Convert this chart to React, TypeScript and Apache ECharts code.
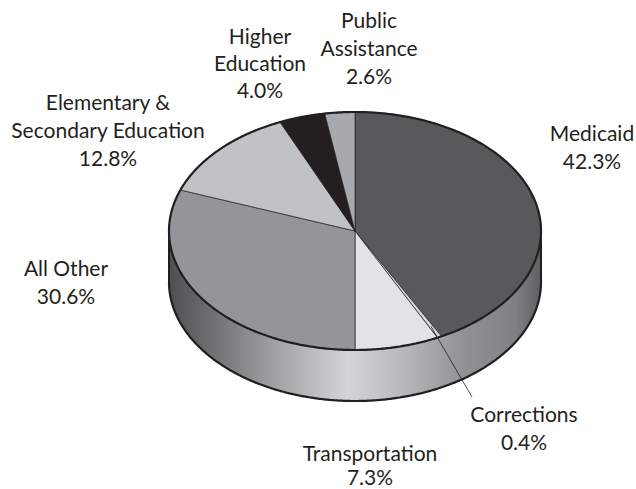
import React, { useEffect, useRef } from 'react';
import * as echarts from 'echarts';

const categories = [
  'Medicaid',
  'Corrections',
  'Transportation',
  'All Other',
  'Elementary &\nSecondary Education',
  'Higher\nEducation',
  'Public\nAssistance',
];
const shares = [42.3, 0.4, 7.3, 30.6, 12.8, 4.0, 2.6];
const sliceColors = ['#58595b', '#d1d3d4', '#e2e3e5', '#939598', '#c1c2c5', '#231f20', '#a7a9ac'];
// label layout: centre x, centre y of first line, line height
const labelAnchors = [
  [592, 132, 28],
  [524, 413, 28],
  [370, 452, 24.5],
  [66, 267, 28],
  [108, 101, 28],
  [260, 35, 27],
  [369, 19, 28],
];

const CX = 355;
const CY = 231;
const RX = 186;
const RY = 119;
const DEPTH = 51;
const FONT = 'Lato, "Open Sans", sans-serif';
const INK = '#231f20';

function pt(theta: number, dy = 0, f = 1): number[] {
  return [CX + f * RX * Math.sin(theta), CY - f * RY * Math.cos(theta) + dy];
}
function arc(a0: number, a1: number, dy = 0): number[][] {
  const n = Math.max(2, Math.ceil(Math.abs(a1 - a0) / (Math.PI / 360)));
  const out: number[][] = [];
  for (let k = 0; k <= n; k++) out.push(pt(a0 + ((a1 - a0) * k) / n, dy));
  return out;
}

export default function App() {
  const ref = useRef<HTMLDivElement>(null);
  useEffect(() => {
    if (!ref.current) return;
    const chart = echarts.init(ref.current, undefined, { renderer: 'svg' });
    const total = shares.reduce((a, b) => a + b, 0);

    const renderItem = (params: any, api: any) => {
      const i = params.dataIndex;
      const v = api.value(0);
      let before = 0;
      for (let j = 0; j < i; j++) before += shares[j];
      const a0 = (before / total) * Math.PI * 2;
      const a1 = ((before + v) / total) * Math.PI * 2;
      const children: any[] = [];

      if (i === 0) {
        const top = arc(Math.PI / 2, (Math.PI * 3) / 2, 0);
        const bottom = arc((Math.PI * 3) / 2, Math.PI / 2, DEPTH);
        children.push({
          type: 'polygon',
          z2: 0,
          shape: { points: top.concat(bottom) },
          style: {
            fill: new echarts.graphic.LinearGradient(0, 0, 1, 0, [
              { offset: 0, color: '#4e4f51' },
              { offset: 0.12, color: '#707173' },
              { offset: 0.3, color: '#a5a6a8' },
              { offset: 0.48, color: '#d3d4d6' },
              { offset: 0.62, color: '#b9babc' },
              { offset: 0.8, color: '#8f9093' },
              { offset: 0.93, color: '#808184' },
              { offset: 1, color: '#5e5f61' },
            ]),
            stroke: null,
          },
        });
        children.push({
          type: 'polyline',
          z2: 4,
          shape: { points: arc(Math.PI / 2, (Math.PI * 3) / 2, DEPTH) },
          style: { stroke: INK, lineWidth: 2.2, fill: null },
        });
        children.push({
          type: 'line',
          z2: 4,
          shape: { x1: CX - RX, y1: CY, x2: CX - RX, y2: CY + DEPTH },
          style: { stroke: INK, lineWidth: 2 },
        });
        children.push({
          type: 'line',
          z2: 4,
          shape: { x1: CX + RX, y1: CY, x2: CX + RX, y2: CY + DEPTH },
          style: { stroke: INK, lineWidth: 2 },
        });
      }

      children.push({
        type: 'polygon',
        z2: 2,
        shape: { points: [[CX, CY]].concat(arc(a0, a1, 0)) },
        style: { fill: sliceColors[i], stroke: INK, lineWidth: 0.7, lineJoin: 'round' },
      });

      if (i === shares.length - 1) {
        children.push({
          type: 'polygon',
          z2: 5,
          shape: { points: arc(0, Math.PI * 2, 0) },
          style: { fill: null, stroke: INK, lineWidth: 2.2 },
        });
      }

      if (i === 1) {
        const mid = (a0 + a1) / 2;
        const s = pt(mid, 0, 0.9);
        children.push({
          type: 'line',
          z2: 6,
          shape: { x1: s[0], y1: s[1], x2: 472, y2: 397 },
          style: { stroke: INK, lineWidth: 0.8 },
        });
      }

      const [lx, ly, lh] = labelAnchors[i];
      children.push({
        type: 'text',
        z2: 7,
        style: {
          text: categories[i] + '\n' + v.toFixed(1) + '%',
          x: lx,
          y: ly - lh / 2,
          align: 'center',
          verticalAlign: 'top',
          fontFamily: FONT,
          fontSize: 21,
          lineHeight: lh,
          fill: INK,
        },
      });

      return { type: 'group', children };
    };

    chart.setOption({
      animation: false,
      backgroundColor: '#ffffff',
      series: [
        {
          type: 'custom',
          coordinateSystem: 'none',
          silent: true,
          renderItem,
          data: shares.map((v, k) => ({ name: categories[k], value: [v] })),
        },
      ],
    });
    return () => chart.dispose();
  }, []);

  return (
    <div
      ref={ref}
      style={{ position: 'fixed', left: 0, top: 0, width: 636, height: 489, background: '#fff' }}
    />
  );
}
